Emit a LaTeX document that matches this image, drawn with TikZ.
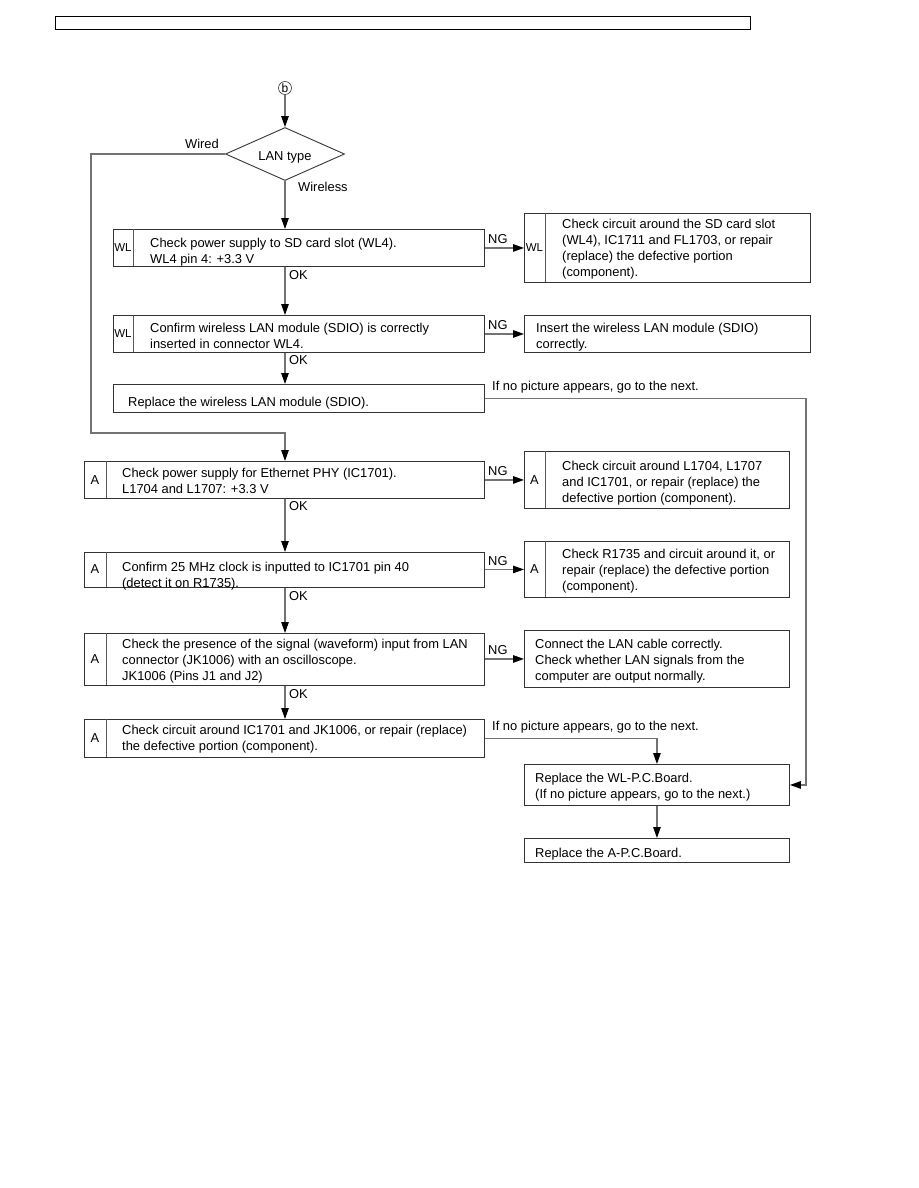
\documentclass[tikz,border=0pt]{standalone}
\usepackage{fontspec}
\setmainfont{Liberation Sans}
\usetikzlibrary{arrows.meta,shapes.geometric}
\begin{document}
\begin{tikzpicture}[x=1pt,y=-1pt,
  font=\fontsize{12.9}{16}\selectfont,
  box/.style={draw=black!80, line width=0.9pt, inner sep=0pt, anchor=north west},
  divline/.style={draw=black!65, line width=0.9pt},
  conn/.style={draw=black!55, line width=1.2pt},
  arr/.style={conn, -{Triangle[length=11pt,width=7.5pt,color=black]}},
  lbl/.style={inner sep=0pt},
  txt/.style={inner sep=0pt, anchor=north west, align=left, execute at begin node=\strut},
  tag/.style={inner sep=0pt},
  wltag/.style={inner sep=0pt, font=\fontsize{11.5}{13}\selectfont}]
\useasboundingbox (0,0) rectangle (918,1188);

% header bar
\node[box, draw=black, line width=1.3pt, minimum width=695pt, minimum height=13pt] (header) at (55,16) {};

% start
\node[circle, draw=black!80, line width=0.6pt, inner sep=0pt, minimum size=13pt, font=\fontsize{12}{12}\selectfont] (b) at (285,88) {b};

% decision
\node[diamond, draw=black!80, line width=0.9pt, inner sep=0pt, minimum width=119pt, minimum height=53pt, aspect=2.25] (lan) at (285,154) {};
\node[lbl] (lantxt) at (285,157) {LAN type};
\node[lbl, anchor=east] (wired) at (219,144) {Wired};
\node[lbl, anchor=west] (wireless) at (298,187) {Wireless};

% WL1
\node[box, minimum width=371pt, minimum height=37pt] (wl1) at (113,229) {};
\draw[divline] (133,229) -- (133,266);
\node[wltag] (wl1t) at (123,248) {WL};
\node[txt] (wl1x) at (150,237.5) {Check power supply to SD card slot (WL4).\\WL4 pin 4: +3.3 V};

\node[box, minimum width=286pt, minimum height=69pt] (rwl1) at (524,213) {};
\draw[divline] (545,213) -- (545,282);
\node[wltag] (rwl1t) at (534.5,248) {WL};
\node[txt] (rwl1x) at (562,219) {Check circuit around the SD card slot\\(WL4), IC1711 and FL1703, or repair\\(replace) the defective portion\\(component).};

% WL2
\node[box, minimum width=371pt, minimum height=37pt] (wl2) at (113,315) {};
\draw[divline] (133,315) -- (133,352);
\node[wltag] (wl2t) at (123,333.5) {WL};
\node[txt] (wl2x) at (150,322.5) {Confirm wireless LAN module (SDIO) is correctly\\inserted in connector WL4.};

\node[box, minimum width=286pt, minimum height=37pt] (rwl2) at (524,315) {};
\node[txt] (rwl2x) at (536,322.5) {Insert the wireless LAN module (SDIO)\\correctly.};

% WL3
\node[box, minimum width=371pt, minimum height=28pt] (wl3) at (113,384) {};
\node[txt] (wl3x) at (128,395) {Replace the wireless LAN module (SDIO).};
\node[lbl, anchor=west] (nopic1) at (492,387) {If no picture appears, go to the next.};

% A1
\node[box, minimum width=400pt, minimum height=37pt] (a1) at (84,461) {};
\draw[divline] (106,461) -- (106,498);
\node[tag] (a1t) at (95,480) {A};
\node[txt] (a1x) at (122,468) {Check power supply for Ethernet PHY (IC1701).\\L1704 and L1707: +3.3 V};

\node[box, minimum width=265pt, minimum height=57pt] (ra1) at (524,451) {};
\draw[divline] (545,451) -- (545,508);
\node[tag] (ra1t) at (534.5,480) {A};
\node[txt] (ra1x) at (562,460.5) {Check circuit around L1704, L1707\\and IC1701, or repair (replace) the\\defective portion (component).};

% A2
\node[box, minimum width=400pt, minimum height=35pt] (a2) at (84,552) {};
\draw[divline] (106,552) -- (106,587);
\node[tag] (a2t) at (95,569.5) {A};
\node[txt] (a2x) at (122,562) {Confirm 25 MHz clock is inputted to IC1701 pin 40\\(detect it on R1735).};

\node[box, minimum width=265pt, minimum height=56pt] (ra2) at (524,541) {};
\draw[divline] (545,541) -- (545,597);
\node[tag] (ra2t) at (534.5,569) {A};
\node[txt] (ra2x) at (562,549) {Check R1735 and circuit around it, or\\repair (replace) the defective portion\\(component).};

% A3
\node[box, minimum width=400pt, minimum height=52pt] (a3) at (84,633) {};
\draw[divline] (106,633) -- (106,685);
\node[tag] (a3t) at (95,659) {A};
\node[txt] (a3x) at (122,639) {Check the presence of the signal (waveform) input from LAN\\connector (JK1006) with an oscilloscope.\\JK1006 (Pins J1 and J2)};

\node[box, minimum width=265pt, minimum height=57pt] (ra3) at (524,630) {};
\node[txt] (ra3x) at (535,639) {Connect the LAN cable correctly.\\Check whether LAN signals from the\\computer are output normally.};

% A4
\node[box, minimum width=400pt, minimum height=38pt] (a4) at (84,719) {};
\draw[divline] (106,719) -- (106,757);
\node[tag] (a4t) at (95,738) {A};
\node[txt] (a4x) at (122,725) {Check circuit around IC1701 and JK1006, or repair (replace)\\the defective portion (component).};
\node[lbl, anchor=west] (nopic2) at (492,727) {If no picture appears, go to the next.};

% boards
\node[box, minimum width=265pt, minimum height=41pt] (wlpcb) at (524,764) {};
\node[txt] (wlpcbx) at (535,773) {Replace the WL-P.C.Board.\\(If no picture appears, go to the next.)};
\node[box, minimum width=265pt, minimum height=24pt] (apcb) at (524,838) {};
\node[txt] (apcbx) at (535,846) {Replace the A-P.C.Board.};

% OK / NG labels
\node[lbl, anchor=west] (ok1) at (289,275) {OK};
\node[lbl, anchor=west] (ok2) at (289,360) {OK};
\node[lbl, anchor=west] (ok3) at (289,506) {OK};
\node[lbl, anchor=west] (ok4) at (289,596) {OK};
\node[lbl, anchor=west] (ok5) at (289,694) {OK};
\node[lbl, anchor=west] (ng1) at (488,239) {NG};
\node[lbl, anchor=west] (ng2) at (488,325) {NG};
\node[lbl, anchor=west] (ng3) at (488,471) {NG};
\node[lbl, anchor=west] (ng4) at (488,561) {NG};
\node[lbl, anchor=west] (ng5) at (488,650) {NG};

% coordinates
\coordinate (wcorner) at (91,433);
\coordinate (rloop) at (806,398);

% connectors
\draw[arr] (b.south) -- (lan.north);
\draw[arr] (lan.south) -- (wl1.north -| b);
\draw[arr] (wl1.south -| b) -- (wl2.north -| b);
\draw[arr] (wl2.south -| b) -- (wl3.north -| b);
\draw[arr] (lan.west) -| (wcorner) -- (wcorner -| b) -- (a1.north -| b);
\draw[arr] (a1.south -| b) -- (a2.north -| b);
\draw[arr] (a2.south -| b) -- (a3.north -| b);
\draw[arr] (a3.south -| b) -- (a4.north -| b);
\draw[arr] (wl1.east) -- (rwl1.west);
\draw[arr] (wl2.east) -- (rwl2.west);
\draw[arr] (a1.east) -- (ra1.west);
\draw[arr] (a2.east |- ra2.west) -- (ra2.west);
\draw[arr] (a3.east |- ra3.west) -- (ra3.west);
\draw[arr] (wl3.east) -- (wl3.east -| rloop) |- (wlpcb.east);
\draw[arr] (a4.east) -| (wlpcb.north);
\draw[arr] (wlpcb.south) -- (apcb.north);
\end{tikzpicture}
\end{document}
